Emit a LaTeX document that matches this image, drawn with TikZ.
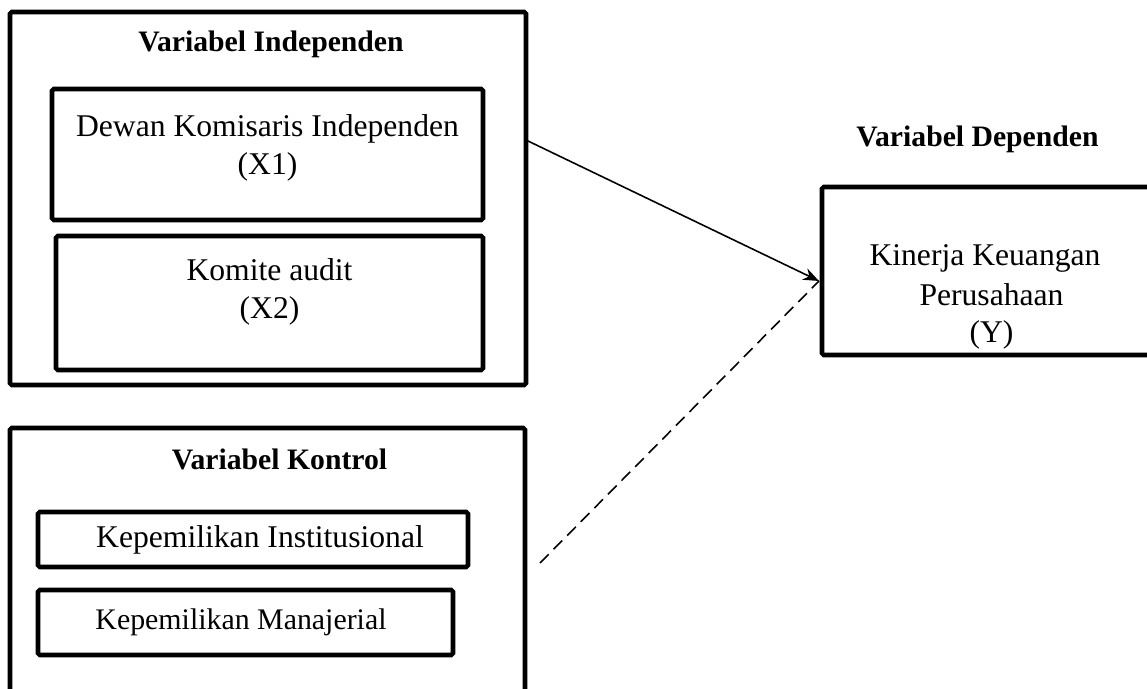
\documentclass[tikz,border=0pt]{standalone}
\usepackage{fontspec}
\setmainfont{Liberation Serif}
\usetikzlibrary{arrows.meta}

\begin{document}
\begin{tikzpicture}[x=0.02cm,y=-0.02cm,
  box/.style={draw,line width=2.6pt,rounded corners=1pt,inner sep=0pt},
  txt/.style={align=center,font=\fontsize{18}{22}\selectfont,inner sep=0pt},
  head/.style={font=\bfseries\fontsize{16.9}{20}\selectfont,inner sep=0pt}]
\useasboundingbox (0,0) rectangle (1147,689);
\clip (0,0) rectangle (1147,689);

% Variabel Independen
\node[box,minimum width=516*0.02cm,minimum height=373*0.02cm] (indep) at (268,198.5) {};
\node[head] (indepT) at (271,44) {Variabel Independen};
\node[box,minimum width=431*0.02cm,minimum height=131*0.02cm] (xa) at (267.5,154.5) {};
\node[txt] (xaT) at (267.5,148) {Dewan Komisaris Independen\\(X1)};
\node[box,minimum width=427*0.02cm,minimum height=134*0.02cm] (xb) at (269.5,303) {};
\node[txt] (xbT) at (269.5,292) {Komite audit\\(X2)};

% Variabel Kontrol
\node[box,minimum width=515*0.02cm,minimum height=290*0.02cm] (kontrol) at (267.5,573) {};
\node[head] (kontrolT) at (279.5,459) {Variabel Kontrol};
\node[box,minimum width=430*0.02cm,minimum height=55*0.02cm] (inst) at (253,539.5) {};
\node[txt] (instT) at (260,540) {Kepemilikan Institusional};
\node[box,minimum width=415*0.02cm,minimum height=65*0.02cm] (manaj) at (245.5,622.5) {};
\node[txt,font=\fontsize{17}{20}\selectfont] (manajT) at (241,622) {Kepemilikan Manajerial};

% Variabel Dependen
\node[head] (depT) at (977.5,139) {Variabel Dependen};
\node[box,minimum width=360*0.02cm,minimum height=168*0.02cm] (kinerja) at (1002,271) {};
\node[txt,anchor=base] (kinerjaA) at (985,266) {Kinerja Keuangan};
\node[txt,anchor=base] (kinerjaB) at (991.5,306) {Perusahaan};
\node[txt,anchor=base] (kinerjaC) at (991.5,343) {(Y)};

% Connections
\coordinate (pa) at (528,141);
\coordinate (pb) at (540,563);
\coordinate (tip) at (819,281);
\draw[line width=0.9pt,-{Stealth[length=9pt,width=7pt]}] (pa) -- (tip);
\draw[line width=0.9pt,dash pattern=on 7pt off 4pt] (pb) -- (tip);
\end{tikzpicture}
\end{document}
